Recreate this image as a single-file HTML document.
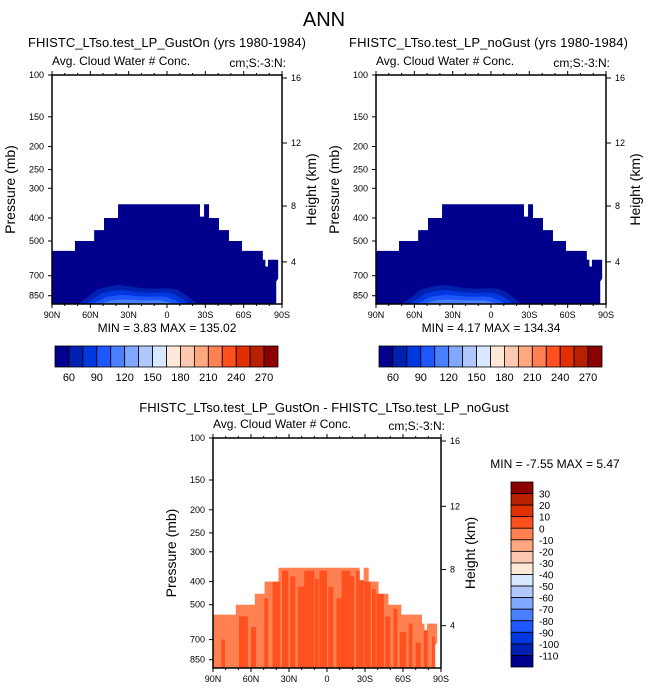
<!DOCTYPE html>
<html><head><meta charset="utf-8"><style>
body{margin:0;background:#fff;}
svg{display:block;font-family:"Liberation Sans",Arial,sans-serif;}
</style></head><body>
<svg id="fig" width="648" height="693" viewBox="0 0 648 693" xmlns="http://www.w3.org/2000/svg">
<text x="324" y="26" text-anchor="middle" font-size="20">ANN</text>
</svg>
<script>
// ---- data ----
const palette = ["#00008c","#0020b0","#0038e0","#1e56ff","#4a80ff","#80a8ff","#b0c8ff","#d8e8ff","#ffe8d8","#ffc8b0","#ffa880","#ff8050","#ff5020","#e03000","#b82000","#8b0000"];
const pressureTicks = [100,150,200,250,300,400,500,700,850];
const heightTicks = [16,12,8,4];
const heightTickY = [0.013,0.297,0.572,0.816];
const latTicks = ["90N","60N","30N","0","30S","60S","90S"];
const cloudLatEdges = [90,72,57,49.3,38.3,-25.8,-29,-32.9,-40.7,-48.5,-58.7,-75,-77,-79,-85,-87];
const cloudTopP     = [550,500,450,400,350,395,350,400,450,500,550,600,640,600,600];
const surfaceP = 921;
const topLevels = [60,75,90,105,120,135,150,165,180,195,210,225,240,255,270];
const topLabels = [60,90,120,150,180,210,240,270];
const diffLevels = [30,20,10,0,-10,-20,-30,-40,-50,-60,-70,-80,-90,-100,-110];
const coreLat = [70,62,55,45,38,30,20,10,0,-8,-16,-24];
const coreTopP = [921,860,800,775,765,775,790,795,790,800,850,921];
const streakLat = [82,66,58,48,40,33,27,20,14,8,3,-3,-10,-15,-20,-26,-32,-37,-42,-48,-54,-60,-66,-72,-78,-84];
const streakW   = [3,7,4,3,6,5,4,6,8,3,6,4,5,7,3,6,5,3,6,4,3,5,3,4,3,2];
const streakTop = [700,560,620,470,400,360,380,420,360,390,360,420,470,360,380,360,400,430,450,560,520,650,600,720,640,680];

const svg=document.getElementById('fig');
const NS="http://www.w3.org/2000/svg";
function mk(tag,attrs,parent){const e=document.createElementNS(NS,tag);for(const k in attrs)e.setAttribute(k,attrs[k]);(parent||svg).appendChild(e);return e;}
function txt(x,y,s,size,anchor,parent){const t=mk('text',{x:x,y:y,'font-size':size,'text-anchor':anchor||'start'},parent);t.textContent=s;return t;}

function panel(px,py,W,H,name,kind,cid){
  const g=mk('g',{});
  
  
  const k=H/Math.log10(surfaceP/100);
  const yP=p=>py+k*Math.log10(p/100);
  const xL=l=>px+(90-l)/180*W;
  let d=`M${xL(90)},${yP(surfaceP)}`;
  for(let i=0;i<cloudTopP.length;i++){
    const p=cloudTopP[i];
    d+=` L${xL(cloudLatEdges[i])},${yP(p)} L${xL(cloudLatEdges[i+1])},${yP(p)}`;
  }
  d+=` L${xL(-87)},${yP(720)} L${xL(-85.5)},${yP(740)} L${xL(-85.5)},${yP(surfaceP)} Z`;
  const env=mk('path',{d:d,fill:kind==='diff'?'#ff8050':'#00008c'},g);
  
  
  const cp=mk('clipPath',{id:cid},g);mk('path',{d:d},cp);
  const sg=mk('g',{'clip-path':`url(#${cid})`},g);
  if(kind==='diff'){
    streakLat.forEach((l,i)=>{
      const s=mk('rect',{x:xL(l+streakW[i]/2),y:yP(streakTop[i]),width:streakW[i]/180*W,height:yP(surfaceP)-yP(streakTop[i]),fill:'#ff5020'},sg);
      
      
    });
  } else {
    const cols=["#0020b0","#0038e0","#1e56ff","#4a80ff"];
    cols.forEach((c,j)=>{
      const f=1-j*0.25;
      let dd='';
      coreLat.forEach((l,i)=>{
        const lat=25+(l-25)*(0.5+0.5*f);
        const p=surfaceP-(surfaceP-coreTopP[i])*f;
        dd+=(i?' L':'M')+xL(lat)+','+yP(p);
      });
      const c1=mk('path',{d:dd+' Z',fill:c},sg);
      
      
    });
  }
  mk('rect',{x:px,y:py,width:W,height:H,fill:'none',stroke:'#000','stroke-width':1.5},g);
  pressureTicks.forEach(p=>{
    const y=yP(p);
    mk('line',{x1:px-4,x2:px,y1:y,y2:y,stroke:'#000'},g);
    txt(px-8,y+3,String(p),9,'end',g);
  });
  heightTicks.forEach((h,i)=>{
    const y=py+heightTickY[i]*H;
    mk('line',{x1:px+W,x2:px+W+5,y1:y,y2:y,stroke:'#000'},g);
    txt(px+W+9,y+3,String(h),9,'start',g);
  });
  latTicks.forEach((s,i)=>{
    const x=px+i*W/6;
    mk('line',{x1:x,x2:x,y1:py+H,y2:py+H+4,stroke:'#000'},g);
    mk('line',{x1:x,x2:x,y1:py,y2:py-4,stroke:'#000'},g);
    txt(x,py+H+14,s,9,'middle',g);
  });
  for(let i=0;i<18;i++){if(i%3==0)continue;const x=px+i*W/18;
    mk('line',{x1:x,x2:x,y1:py+H,y2:py+H+2,stroke:'#000'},g);
    mk('line',{x1:x,x2:x,y1:py,y2:py-2,stroke:'#000'},g);}
  const yl=mk('text',{x:0,y:0,'font-size':14,'text-anchor':'middle',transform:`translate(${px-37},${py+H/2}) rotate(-90)`},g);yl.textContent='Pressure (mb)';
  const hl=mk('text',{x:0,y:0,'font-size':14,'text-anchor':'middle',transform:`translate(${px+W+34},${py+H/2}) rotate(-90)`},g);hl.textContent='Height (km)';
  txt(px,py-10,'Avg. Cloud Water # Conc.',12,'start',g);
  txt(px+W+4,py-8,'cm;S:-3:N:',12,'end',g);
}

function hbar(x,y,w,h){
  const g=mk('g',{});
  
  
  const bw=w/palette.length;
  palette.forEach((c,i)=>mk('rect',{x:x+i*bw,y:y,width:bw,height:h,fill:c,stroke:'#000','stroke-width':0.8},g));
  topLevels.forEach((v,i)=>{ if(topLabels.includes(v)) txt(x+(i+1)*bw,y+h+14,String(v),11,'middle',g); });
}
function vbar(x,y,w,h){
  const g=mk('g',{});
  
  
  const bh=h/palette.length;
  palette.slice().reverse().forEach((c,i)=>mk('rect',{x:x,y:y+i*bh,width:w,height:bh,fill:c,stroke:'#000','stroke-width':0.8},g));
  diffLevels.forEach((v,i)=>txt(x+w+6,y+(i+1)*bh+4,String(v),10,'start',g));
}

const t1=txt(28,47,'FHISTC_LTso.test_LP_GustOn (yrs 1980-1984)',13);t1.setAttribute('textLength','278');

const t2=txt(349,47,'FHISTC_LTso.test_LP_noGust (yrs 1980-1984)',13);t2.setAttribute('textLength','279');

panel(52,75,230,229,'left-plot','abs','clipa');
panel(376,75,230,229,'right-plot','abs','clipb');
txt(167,332,'MIN =   3.83  MAX = 135.02',12,'middle').setAttribute('xml:space','preserve');
txt(491,332,'MIN =   4.17  MAX = 134.34',12,'middle').setAttribute('xml:space','preserve');
hbar(55,346,223,21);
hbar(379,346,223,21);
const t3=txt(324,412,'FHISTC_LTso.test_LP_GustOn - FHISTC_LTso.test_LP_noGust',13,'middle');

panel(213,438,228,230,'diff-plot','diff','clipc');
txt(555,468,'MIN =  -7.55  MAX =   5.47',12,'middle').setAttribute('xml:space','preserve');
vbar(511,482,22,185);
</script>
</body></html>
